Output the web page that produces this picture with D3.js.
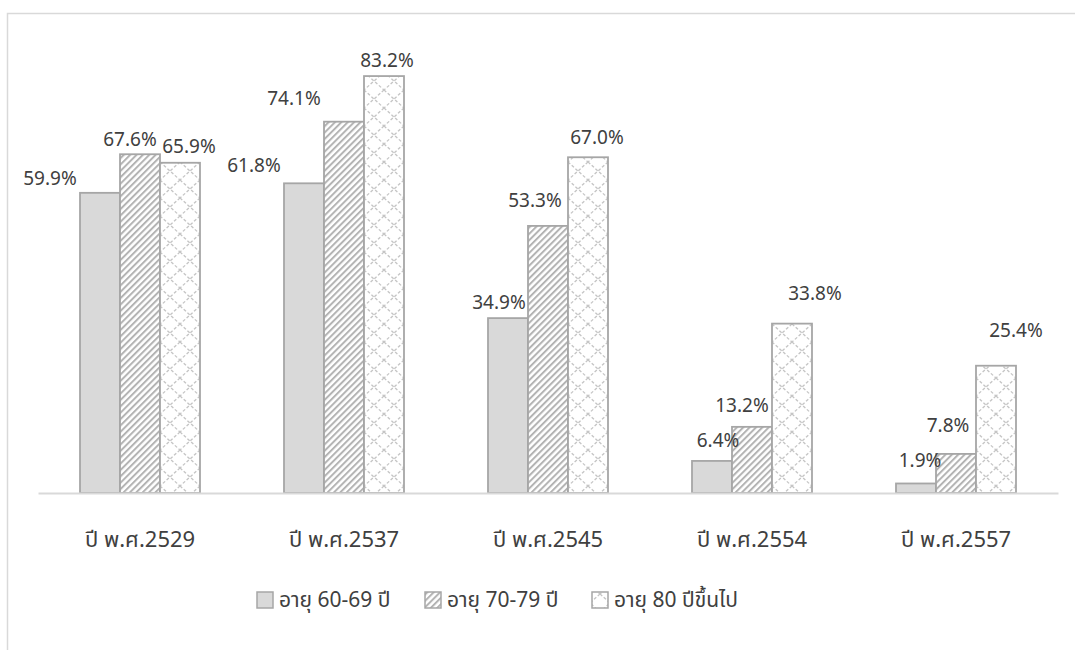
<!DOCTYPE html>
<html>
<head>
<meta charset="utf-8">
<script src="https://cdn.jsdelivr.net/npm/d3@7"></script>
<style>
  html, body { margin: 0; padding: 0; background: #fff; }
  svg { display: block; }
  text { font-family: "Noto Sans", "Noto Sans Thai", "DejaVu Sans", sans-serif; fill: #404040; }
</style>
</head>
<body>
<svg id="chart" width="1075" height="650"></svg>
<script>
// ---- data ----
const categories = ["ปี พ.ศ.2529", "ปี พ.ศ.2537", "ปี พ.ศ.2545", "ปี พ.ศ.2554", "ปี พ.ศ.2557"];
const seriesNames = ["อายุ 60-69 ปี", "อายุ 70-79 ปี", "อายุ 80 ปีขึ้นไป"];
const age6069 = [59.9, 61.8, 34.9, 6.4, 1.9];
const age7079 = [67.6, 74.1, 53.3, 13.2, 7.8];
const age80up = [65.9, 83.2, 67.0, 33.8, 25.4];

// label nudges (layout only) [dx, dy] per series per category
const labelNudge = [
  [[-50, 0], [-50, -3], [-9, -1], [6, -6], [4, -8]],
  [[-10, 0], [-50, -9], [-13, -11], [-10, -7], [-8, -14]],
  [[9, -2], [3, -1], [9, -5], [23, -16], [20, -21]]
];

const seriesValues = [age6069, age7079, age80up];

const svg = d3.select("#chart");
const defs = svg.append("defs");

// pattern: wide upward diagonal
const p1 = defs.append("pattern").attr("id", "diag").attr("patternUnits", "userSpaceOnUse")
  .attr("width", 4.5).attr("height", 4.5).attr("patternTransform", "rotate(45)");
p1.append("rect").attr("width", 4.5).attr("height", 4.5).attr("fill", "#fff");
p1.append("rect").attr("x", 0).attr("width", 2).attr("height", 4.5).attr("fill", "#b3b3b3");

// pattern: dashed lattice
const p2 = defs.append("pattern").attr("id", "lattice").attr("patternUnits", "userSpaceOnUse")
  .attr("width", 20).attr("height", 18);
p2.append("rect").attr("width", 20).attr("height", 18).attr("fill", "#fff");
p2.append("path").attr("d", "M0,0 L10,9 L0,18 M20,0 L10,9 L20,18")
  .attr("stroke", "#c4c4c4").attr("stroke-width", 1.3).attr("stroke-dasharray", "3,2").attr("fill", "none");

const fills = ["#d9d9d9", "url(#diag)", "url(#lattice)"];

// frame
svg.append("path").attr("d", "M7.5,650 L7.5,13.5 L1075,13.5")
  .attr("fill", "none").attr("stroke", "#d9d9d9").attr("stroke-width", 1.5);

// scales
const x = d3.scaleBand().domain(categories).range([38, 1058]).paddingInner(0.4118).paddingOuter(0.2059);
const xs = d3.scaleBand().domain(d3.range(3)).range([0, x.bandwidth()]).padding(0);
const y = d3.scaleLinear().domain([0, 90]).range([493, 42]);

// bars
const groups = svg.append("g").selectAll("g").data(categories).join("g")
  .attr("transform", d => `translate(${x(d)},0)`);

groups.each(function(cat, ci) {
  const g = d3.select(this);
  seriesValues.forEach((vals, si) => {
    const v = vals[ci];
    g.append("rect")
      .attr("x", xs(si)).attr("width", xs.bandwidth())
      .attr("y", y(v)).attr("height", y(0) - y(v))
      .attr("fill", fills[si]).attr("stroke", "#a6a6a6").attr("stroke-width", 1.8);
  });
});

// axis line
const xAxis = svg.append("g").attr("transform", `translate(0,${y(0)})`)
  .call(d3.axisBottom(x).tickSize(0).tickPadding(38));
xAxis.select(".domain").attr("stroke", "#d9d9d9").attr("stroke-width", 2);
xAxis.selectAll("text").style("font-size", "22px").style("fill", "#404040")
  .style("font-family", '"Noto Sans", "Noto Sans Thai", "DejaVu Sans", sans-serif');

// data labels
const labels = svg.append("g");
categories.forEach((cat, ci) => {
  seriesValues.forEach((vals, si) => {
    const v = vals[ci];
    const nd = labelNudge[si][ci];
    labels.append("text")
      .attr("x", x(cat) + xs(si) + xs.bandwidth() / 2 + nd[0])
      .attr("y", y(v) - 8 + nd[1])
      .attr("text-anchor", "middle")
      .style("font-size", "19px")
      .text(v.toFixed(1) + "%");
  });
});

// legend
const legendItems = [
  { x: 257, tx: 279 },
  { x: 425, tx: 447 },
  { x: 592, tx: 614 }
];
const legend = svg.append("g");
seriesNames.forEach((name, i) => {
  legend.append("rect").attr("x", legendItems[i].x).attr("y", 592).attr("width", 16).attr("height", 16)
    .attr("fill", fills[i]).attr("stroke", "#a6a6a6").attr("stroke-width", 1.5);
  legend.append("text").attr("x", legendItems[i].tx).attr("y", 607)
    .style("font-size", "21px").text(name);
});
</script>
</body>
</html>
